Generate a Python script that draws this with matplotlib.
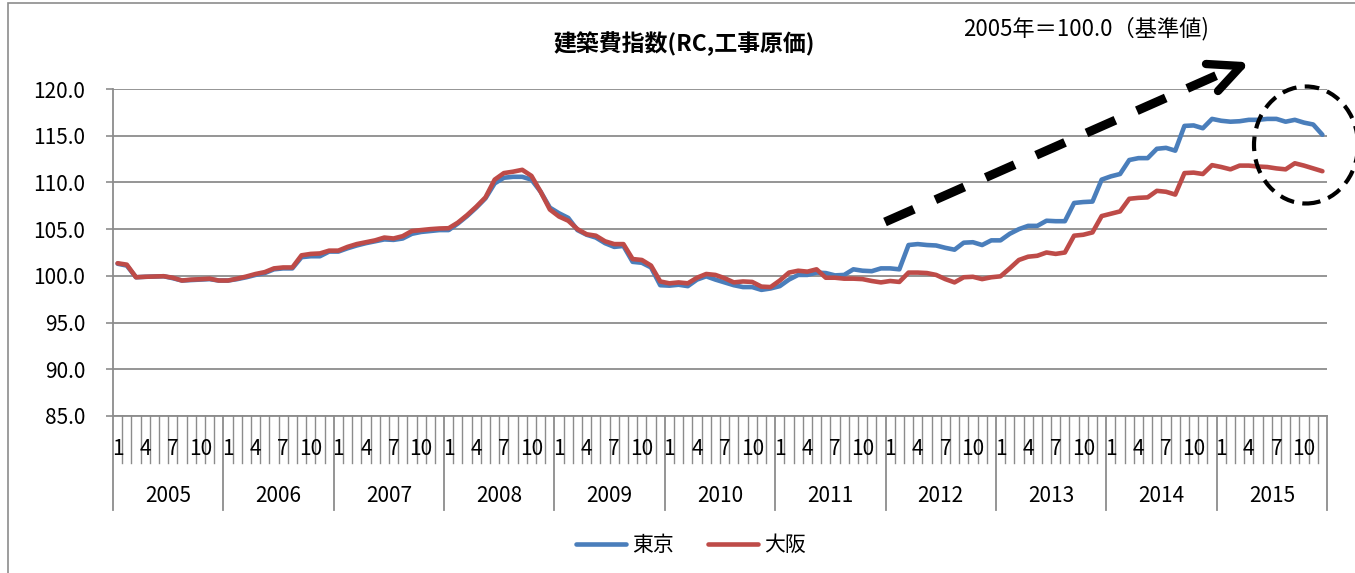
import matplotlib
matplotlib.use("Agg")
import matplotlib.pyplot as plt
from matplotlib.patches import Ellipse, Rectangle
from matplotlib.lines import Line2D

plt.rcParams['font.family'] = ['Noto Sans CJK JP', 'DejaVu Sans']

# 年・月ラベル
years = [2005, 2006, 2007, 2008, 2009, 2010, 2011, 2012, 2013, 2014, 2015]
month_labels = [1, 4, 7, 10]
yticks = [85.0, 90.0, 95.0, 100.0, 105.0, 110.0, 115.0, 120.0]

# 建築費指数 (2005年=100.0), 月次
tokyo = [
    101.3, 101.1, 99.85, 99.9, 99.93, 99.96, 99.75, 99.5, 99.55, 99.6, 99.65, 99.5,
    99.5, 99.65, 99.85, 100.1, 100.3, 100.7, 100.8, 100.8, 102.0, 102.1, 102.1, 102.6,
    102.6, 102.95, 103.25, 103.5, 103.7, 103.9, 103.85, 104.0, 104.5, 104.7, 104.8, 104.9,
    104.9, 105.6, 106.4, 107.3, 108.3, 109.9, 110.5, 110.6, 110.6, 110.3, 109.0, 107.3,
    106.7, 106.2, 104.9, 104.4, 104.1, 103.5, 103.1, 103.2, 101.5, 101.4, 100.9, 99.0,
    98.95, 99.05, 98.9, 99.6, 99.95, 99.6, 99.3, 99.0, 98.8, 98.8, 98.5, 98.65,
    98.9, 99.6, 100.1, 100.1, 100.35, 100.3, 100.05, 100.1, 100.7, 100.55, 100.5, 100.8,
    100.8, 100.7, 103.3, 103.4, 103.3, 103.25, 103.0, 102.8, 103.55, 103.6, 103.3, 103.8,
    103.8, 104.5, 105.0, 105.35, 105.35, 105.9, 105.85, 105.85, 107.8, 107.9, 107.95, 110.3,
    110.65, 110.9, 112.4, 112.6, 112.6, 113.6, 113.7, 113.4, 116.05, 116.1, 115.8, 116.8,
    116.6, 116.5, 116.55, 116.7, 116.7, 116.8, 116.8, 116.5, 116.7, 116.4, 116.2, 115.1,
]
osaka = [
    101.35, 101.2, 99.85, 99.9, 99.93, 99.96, 99.8, 99.5, 99.6, 99.64, 99.7, 99.5,
    99.5, 99.7, 99.93, 100.2, 100.4, 100.8, 100.9, 100.9, 102.2, 102.35, 102.4, 102.7,
    102.7, 103.1, 103.4, 103.6, 103.8, 104.1, 104.0, 104.25, 104.8, 104.9, 105.0, 105.07,
    105.1, 105.7, 106.5, 107.4, 108.4, 110.3, 111.0, 111.15, 111.35, 110.7, 109.0, 107.1,
    106.35, 105.9, 105.0, 104.45, 104.3, 103.7, 103.4, 103.4, 101.8, 101.7, 101.1, 99.4,
    99.2, 99.3, 99.2, 99.8, 100.2, 100.1, 99.75, 99.3, 99.4, 99.35, 98.85, 98.8,
    99.5, 100.35, 100.55, 100.45, 100.7, 99.8, 99.8, 99.7, 99.7, 99.65, 99.45, 99.3,
    99.45, 99.35, 100.35, 100.35, 100.3, 100.1, 99.65, 99.3, 99.85, 99.9, 99.65, 99.85,
    99.95, 100.8, 101.7, 102.05, 102.15, 102.5, 102.35, 102.5, 104.3, 104.4, 104.65, 106.4,
    106.65, 106.9, 108.25, 108.35, 108.4, 109.1, 109.0, 108.7, 111.0, 111.05, 110.9, 111.85,
    111.65, 111.4, 111.8, 111.8, 111.7, 111.65, 111.5, 111.4, 112.05, 111.8, 111.5, 111.2,
]

W, H = 1355, 573
GRAY = '#8c8c8c'
FS = 15


def fig_xy(x, y):
    # ピクセル座標 -> figure座標
    return (x / W, 1 - y / H)


def fig_line(p0, p1, **kw):
    (x0, y0), (x1, y1) = fig_xy(*p0), fig_xy(*p1)
    fig.add_artist(Line2D([x0, x1], [y0, y1], transform=fig.transFigure, color='black', **kw))


fig = plt.figure(figsize=(W / 100, H / 100), dpi=100)
ax = fig.add_axes([113 / W, 1 - 416 / H, (1327 - 113) / W, (416 - 89) / H])

n = len(tokyo)
x = [i + 0.5 for i in range(n)]
ax.plot(x, tokyo, color='#4a7ebb', lw=3.3, label='東京', solid_joinstyle='round', solid_capstyle='round')
ax.plot(x, osaka, color='#be4b48', lw=3.3, label='大阪', solid_joinstyle='round', solid_capstyle='round')

ax.set_xlim(0, n)
ax.set_ylim(85, 120)
ax.set_yticks(yticks)
ax.set_yticklabels([f"{v:.1f}" for v in yticks], fontsize=FS)
ax.yaxis.grid(True, color=GRAY, lw=1.3)
ax.set_axisbelow(True)
ax.tick_params(axis='y', length=5, width=1.2, color=GRAY, pad=15)
ax.set_xticks([])
for s in ['top', 'right', 'bottom']:
    ax.spines[s].set_visible(False)
ax.spines['left'].set_color(GRAY)
ax.spines['left'].set_linewidth(1.3)
ax.axhline(85, color=GRAY, lw=1.3, clip_on=False)

# 多段カテゴリ軸 (月・年)
tr = ax.get_xaxis_transform()
for k in range(n + 1):
    if k % 12 == 0:
        ax.plot([k, k], [0, -0.2875], transform=tr, color=GRAY, lw=1.3, clip_on=False)
    else:
        ax.plot([k, k], [0, -0.1437], transform=tr, color=GRAY, lw=1.0, clip_on=False)

for yi, yr in enumerate(years):
    for m in month_labels:
        ax.text(yi * 12 + m - 0.5, -0.1, str(m), transform=tr, ha='center', va='center', fontsize=FS)
    ax.text(yi * 12 + 6, -0.245, str(yr), transform=tr, ha='center', va='center', fontsize=FS)

# タイトルと注記
fig.text(*fig_xy(684, 44), '建築費指数(RC,工事原価)', ha='center', va='center',
         fontsize=16.5, fontweight='bold')
fig.text(*fig_xy(963, 29), '2005年＝100.0（基準値)', ha='left', va='center', fontsize=16)

# 破線の矢印 (開いた矢じり)
fig_line((885, 222), (1238, 66), lw=6.5, linestyle=(0, (3.5, 2.6)), solid_capstyle='butt')
fig_line((1206, 64), (1241, 66), lw=6, solid_capstyle='round')
fig_line((1218, 91), (1241, 66), lw=6, solid_capstyle='round')

# 破線の円
cx, cy = fig_xy(1306, 145)
fig.add_artist(Ellipse((cx, cy), 104 / W, 117 / H, transform=fig.transFigure, fill=False,
                       edgecolor='black', lw=3, linestyle=(0, (3.5, 2))))

# グラフエリアの枠
fig.add_artist(Rectangle(fig_xy(8, 600), 1400 / W, 597 / H, transform=fig.transFigure,
                         fill=False, edgecolor=GRAY, lw=1.2))

leg = fig.legend(loc='center', bbox_to_anchor=fig_xy(691, 545), ncol=2, frameon=False,
                 prop={'size': FS}, handlelength=2.4, handletextpad=0.3, columnspacing=1.6)
for line in leg.get_lines():
    line.set_solid_capstyle('round')

fig.savefig('out.png', dpi=100)
